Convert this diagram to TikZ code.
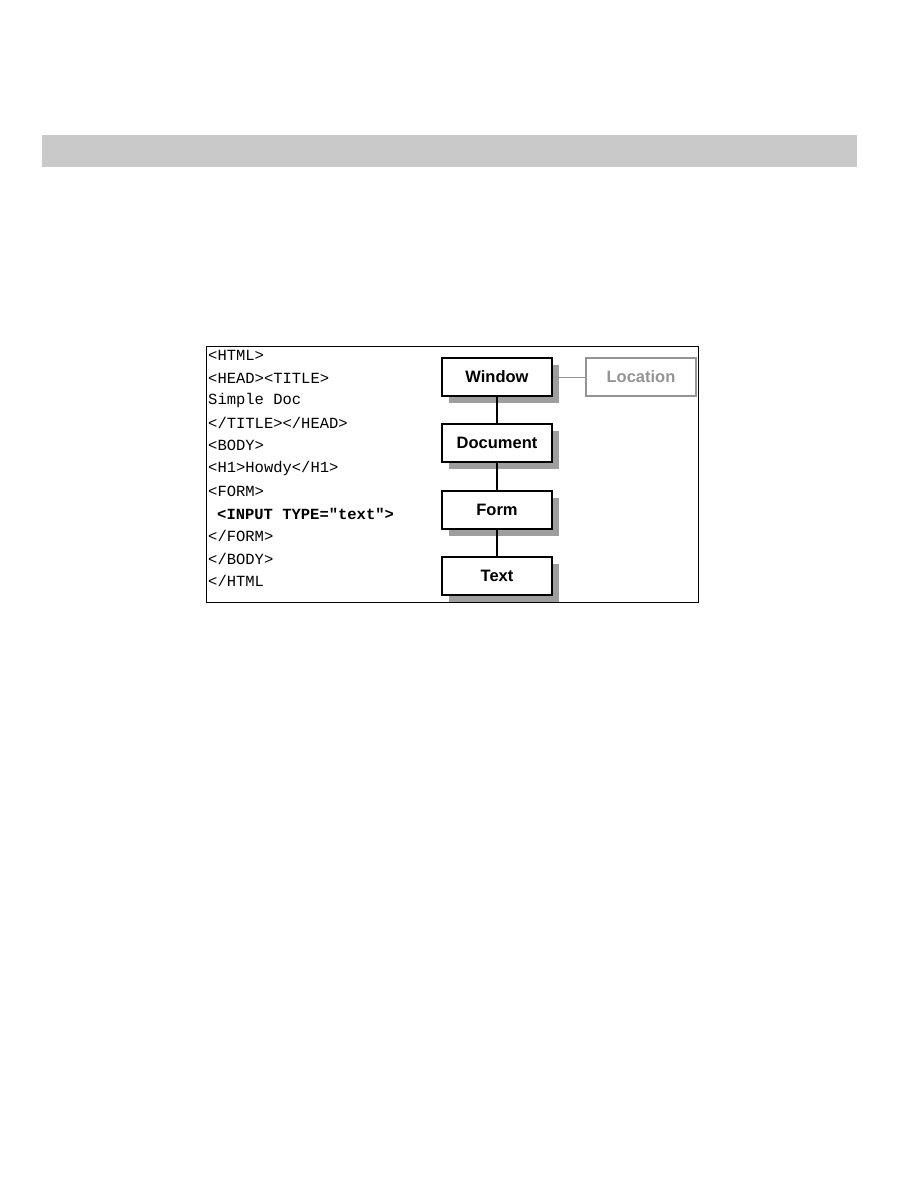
\documentclass[tikz,border=0pt]{standalone}
\usepackage{fontspec}
\setmainfont{Liberation Sans}
\newfontfamily\codefont{Liberation Mono}
\begin{document}
\begin{tikzpicture}[x=1pt,y=-1pt,
  objbox/.style={draw=black,line width=1.8pt,fill=white,minimum width=110pt,minimum height=38pt,inner sep=0pt,font=\fontsize{16.5}{18}\selectfont\bfseries},
  shadowbox/.style={fill=black!38,minimum width=110pt,minimum height=38pt,inner sep=0pt},
  ghostbox/.style={draw=black!42,line width=1.4pt,fill=white,minimum width=110pt,minimum height=38pt,inner sep=0pt,text=black!42,font=\fontsize{16.5}{18}\selectfont\bfseries},
  codeline/.style={anchor=west,inner sep=0pt,font=\codefont\fontsize{15.5}{18}\selectfont},
  link/.style={line width=1.6pt}]
\useasboundingbox (0,0) rectangle (918,1188);
\fill[black!21] (42,135) rectangle (857,167);
\draw[line width=0.8pt] (206,346) rectangle (698,602);
% code
\node[codeline] (l1) at (208,355) {<HTML>};
\node[codeline] (l2) at (208,378) {<HEAD><TITLE>};
\node[codeline] (l3) at (208,400) {Simple Doc};
\node[codeline] (l4) at (208,423) {</TITLE></HEAD>};
\node[codeline] (l5) at (208,445) {<BODY>};
\node[codeline] (l6) at (208,468) {<H1>Howdy</H1>};
\node[codeline] (l7) at (208,491) {<FORM>};
\node[codeline,font=\codefont\bfseries\fontsize{15.5}{18}\selectfont] (l8) at (217,514) {<INPUT TYPE="text">};
\node[codeline] (l9) at (208,536) {</FORM>};
\node[codeline] (l10) at (208,559) {</BODY>};
\node[codeline] (l11) at (208,581) {</HTML};
% shadows
\node[shadowbox] (s1) at (504,384) {};
\node[shadowbox] (s2) at (504,450) {};
\node[shadowbox] (s3) at (504,517) {};
\node[shadowbox] (s4) at (504,583) {};
% connectors
\draw[link] (497,377) -- (497,443);
\draw[link] (497,443) -- (497,510);
\draw[link] (497,510) -- (497,576);
% boxes
\node[objbox] (win) at (497,377) {\raisebox{1pt}{Window}};
\node[objbox] (doc) at (497,443) {\raisebox{1pt}{Document}};
\node[objbox] (form) at (497,510) {\raisebox{1pt}{Form}};
\node[objbox] (txt) at (497,576) {\raisebox{1pt}{Text}};
\node[ghostbox] (loc) at (641,377) {\raisebox{1pt}{Location}};
\draw[black!42,line width=1pt] (win.east) -- (loc.west);
\end{tikzpicture}
\end{document}
